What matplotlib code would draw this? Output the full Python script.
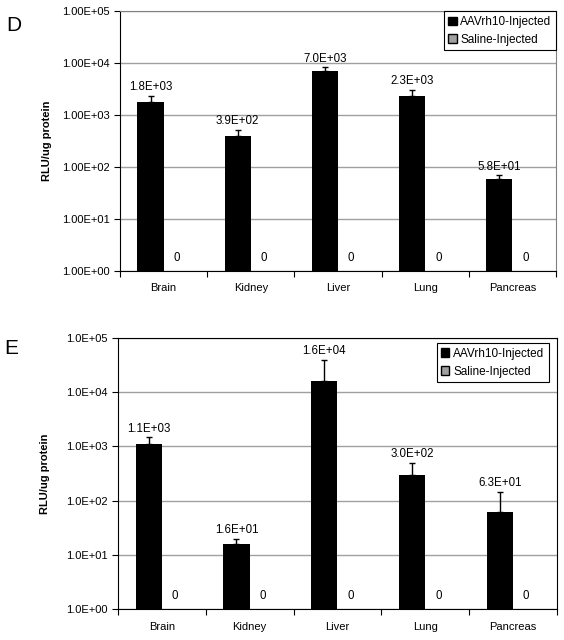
import numpy as np
import matplotlib.pyplot as plt
from matplotlib.patches import Patch

plt.rcParams['font.family'] = ['Liberation Sans', 'DejaVu Sans']

# data
tissues = ['Brain', 'Kidney', 'Liver', 'Lung', 'Pancreas']

aav_d = [1800, 390, 7000, 2300, 58]
aav_d_err = [550, 125, 1300, 700, 11]
saline_d = [0, 0, 0, 0, 0]

aav_e = [1100, 16, 16000, 300, 63]
aav_e_err = [370, 4, 23000, 190, 80]
saline_e = [0, 0, 0, 0, 0]

ticks_d = ['1.00E+00', '1.00E+01', '1.00E+02', '1.00E+03', '1.00E+04', '1.00E+05']
ticks_e = ['1.0E+00', '1.0E+01', '1.0E+02', '1.0E+03', '1.0E+04', '1.0E+05']


def panel(ax, aav, err, saline, ticklabels, letter, letter_y, frame_col, legend_anchor):
    x = np.arange(len(tissues)) + 0.5
    w = 0.3
    ax.set_yscale('log')
    ax.set_ylim(1, 1e5)
    ax.set_xlim(0, len(tissues))
    ax.set_yticks([1, 10, 100, 1e3, 1e4, 1e5])
    ax.set_yticklabels(ticklabels, fontsize=8)
    ax.yaxis.set_minor_locator(plt.NullLocator())
    ax.grid(axis='y', color='#a0a0a0', linewidth=1)
    ax.set_axisbelow(True)

    ax.bar(x - w / 2, aav, w, color='black', zorder=3)
    ax.errorbar(x - w / 2, aav, yerr=[np.zeros(len(aav)), err], fmt='none',
                ecolor='black', elinewidth=1, capsize=2.5, zorder=4)
    for xi, v, e in zip(x, aav, err):
        ax.annotate('{:.1E}'.format(v), (xi - w / 2, v + e), xytext=(0, 2),
                    textcoords='offset points', ha='center', va='bottom', fontsize=8.3)
    for xi, v in zip(x, saline):
        # saline values are zero, cannot be drawn on log axis; label only
        ax.annotate(str(v), (xi + w / 2, 1), xytext=(0, 5),
                    textcoords='offset points', ha='center', va='bottom', fontsize=8.3)

    ax.set_xticks(np.arange(len(tissues) + 1))
    ax.set_xticklabels([])
    ax.set_xticks(x, minor=True)
    ax.set_xticklabels(tissues, minor=True, fontsize=8)
    ax.tick_params(axis='x', which='minor', length=0, pad=9)
    ax.tick_params(axis='x', which='major', length=4, direction='out')
    ax.tick_params(axis='y', length=4, direction='out')

    ax.spines['top'].set_color(frame_col)
    ax.spines['right'].set_color(frame_col)
    ax.set_ylabel('RLU/ug protein', fontsize=8, fontweight='bold')
    ax.yaxis.set_label_coords(-0.155, 0.5)

    handles = [Patch(facecolor='black', edgecolor='black', label='AAVrh10-Injected'),
               Patch(facecolor='#a0a0a0', edgecolor='black', label='Saline-Injected')]
    leg = ax.legend(handles=handles, loc='upper right', bbox_to_anchor=legend_anchor,
                    fontsize=8.5, handlelength=0.7, handleheight=0.7, handletextpad=0.3,
                    borderpad=0.4, labelspacing=0.5, fancybox=False, framealpha=1,
                    borderaxespad=0)
    leg.get_frame().set_edgecolor('black')
    leg.get_frame().set_linewidth(0.8)
    ax.text(-0.26, letter_y, letter, transform=ax.transAxes, fontsize=15,
            ha='left', va='center')


fig = plt.figure(figsize=(5.64, 6.4), dpi=100)
ax_d = fig.add_axes([0.2128, 0.5766, 0.773, 0.406])
ax_e = fig.add_axes([0.2092, 0.0484, 0.778, 0.4234])

panel(ax_d, aav_d, aav_d_err, saline_d, ticks_d, 'D', 0.946, '#808080', (1.0, 1.0))
panel(ax_e, aav_e, aav_e_err, saline_e, ticks_e, 'E', 0.963, 'black', (0.982, 0.982))

fig.savefig('out.png', dpi=100)
